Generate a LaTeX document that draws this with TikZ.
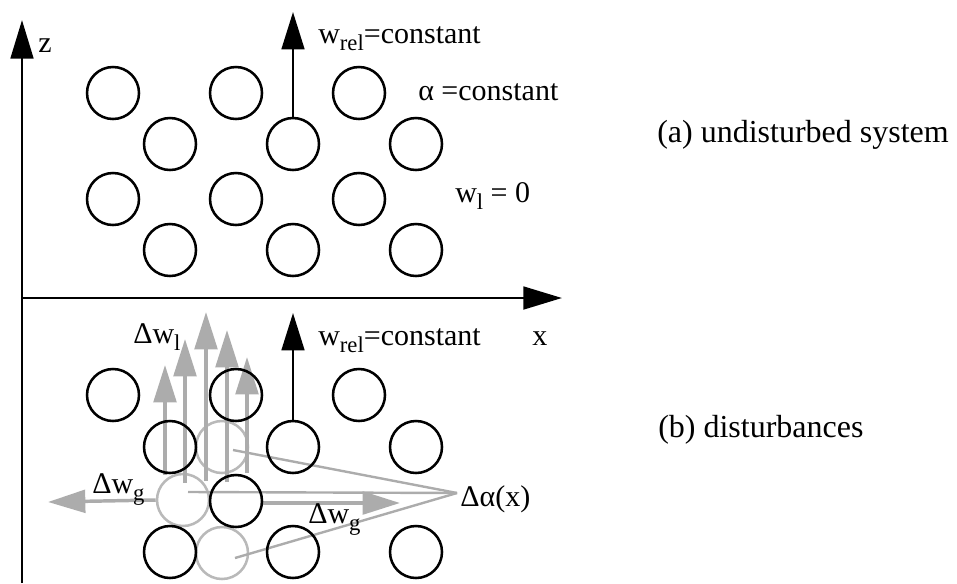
\documentclass[tikz,border=0pt]{standalone}
\usepackage{fontspec}
\setmainfont{Liberation Serif}
\usetikzlibrary{arrows.meta}
\definecolor{lg}{RGB}{172,172,172}
\definecolor{lgc}{RGB}{185,185,185}
\newcommand\lowsub[1]{\raisebox{-5.5pt}{\fontsize{17}{19}\selectfont #1}}
\begin{document}
\begin{tikzpicture}[x=0.75pt,y=-0.75pt,
  circ/.style={circle,draw=black,line width=1.9pt,minimum size=39pt,inner sep=0pt},
  gcirc/.style={circ,draw=lgc},
  axis/.style={line width=2.2pt,-{Triangle[length=29pt,width=17pt]}},
  barrow/.style={line width=2pt,-{Triangle[length=28pt,width=17pt]}},
  garrow/.style={draw=lg,line width=2.6pt,-{Triangle[length=28pt,width=17pt]},color=lg},
  pointer/.style={draw=lg,line width=1.8pt},
  lbl/.style={inner sep=0pt,anchor=base west,font=\fontsize{22.5}{26}\selectfont},
  side/.style={inner sep=0pt,anchor=base west,font=\fontsize{24}{28}\selectfont}]
\useasboundingbox (0,0) rectangle (957,583);

% axes
\coordinate (zb) at (22,583);
\coordinate (zt) at (22,20);
\coordinate (O) at (22,298);
\coordinate (xt) at (562,298);
\draw[axis] (zb) -- (zt);
\draw[axis] (O) -- (xt);
\node[lbl] (zl) at (38,52) {z};
\node[lbl] (xl) at (532,345) {x};

% ---------- top: undisturbed ----------
\node[circ] (a11) at (113,93) {};
\node[circ] (a12) at (236,93) {};
\node[circ] (a13) at (359,93) {};
\node[circ] (a21) at (170,144) {};
\node[circ] (a22) at (293,144) {};
\node[circ] (a23) at (416,144) {};
\node[circ] (a31) at (113,199) {};
\node[circ] (a32) at (236,199) {};
\node[circ] (a33) at (359,199) {};
\node[circ] (a41) at (170,250) {};
\node[circ] (a42) at (293,250) {};
\node[circ] (a43) at (416,250) {};
\coordinate (atip) at (293,12);
\draw[barrow] (a22.north) -- (atip);
\node[lbl] (wrelA) at (318,43) {w\lowsub{rel}=constant};
\node[lbl] (alA) at (418,100) {α =constant};
\node[lbl] (wlA) at (455,202) {w\lowsub{l} = 0};
\node[side] (capA) at (657,142) {(a) undisturbed system};

% ---------- bottom: disturbances ----------
% grey displaced circles
\node[gcirc] (g1) at (222,447) {};
\node[gcirc] (g2) at (183,500) {};
\node[gcirc] (g3) at (222,553) {};
% grey vertical arrows (Delta w_l)
\coordinate (v1b) at (165,475); \coordinate (v1t) at (165,365);
\coordinate (v2b) at (185,483); \coordinate (v2t) at (185,339);
\coordinate (v3b) at (206,481); \coordinate (v3t) at (206,312);
\coordinate (v4b) at (227,482); \coordinate (v4t) at (227,330);
\coordinate (v5b) at (247,473); \coordinate (v5t) at (247,357);
\draw[garrow] (v1b) -- (v1t);
\draw[garrow] (v2b) -- (v2t);
\draw[garrow] (v3b) -- (v3t);
\draw[garrow] (v4b) -- (v4t);
\draw[garrow] (v5b) -- (v5t);
% grey horizontal arrows (Delta w_g)
\coordinate (hlt) at (48,502);
\draw[garrow] (g2.west) -- (hlt);
\coordinate (hrs) at (262,503);
\coordinate (hrt) at (400,503);
\draw[garrow] (hrs) -- (hrt);
% pointer lines to Delta alpha(x)
\coordinate (conv) at (457,493);
\coordinate (p1) at (233,450);
\coordinate (p2) at (188,492);
\coordinate (p3) at (235,558);
\draw[pointer] (p1) -- (conv);
\draw[pointer] (p2) -- (conv);
\draw[pointer] (p3) -- (conv);

% black circles
\node[circ] (b11) at (113,395) {};
\node[circ] (b12) at (236,395) {};
\node[circ] (b13) at (359,395) {};
\node[circ] (b21) at (170,447) {};
\node[circ] (b22) at (293,447) {};
\node[circ] (b23) at (416,447) {};
\node[circ] (b32) at (236,501) {};
\node[circ] (b41) at (170,552) {};
\node[circ] (b42) at (293,552) {};
\node[circ] (b43) at (416,552) {};
\coordinate (btip) at (293,313);
\draw[barrow] (b22.north) -- (btip);

\node[lbl] (wrelB) at (318,345) {w\lowsub{rel}=constant};
\node[lbl] (dwl) at (133,343) {Δw\lowsub{l}};
\node[lbl] (dwgL) at (92,493) {Δw\lowsub{g}};
\node[lbl] (dwgR) at (308,523) {Δw\lowsub{g}};
\node[lbl] (dal) at (460,506) {Δα(x)};
\node[side] (capB) at (658,437) {(b) disturbances};
\end{tikzpicture}
\end{document}
